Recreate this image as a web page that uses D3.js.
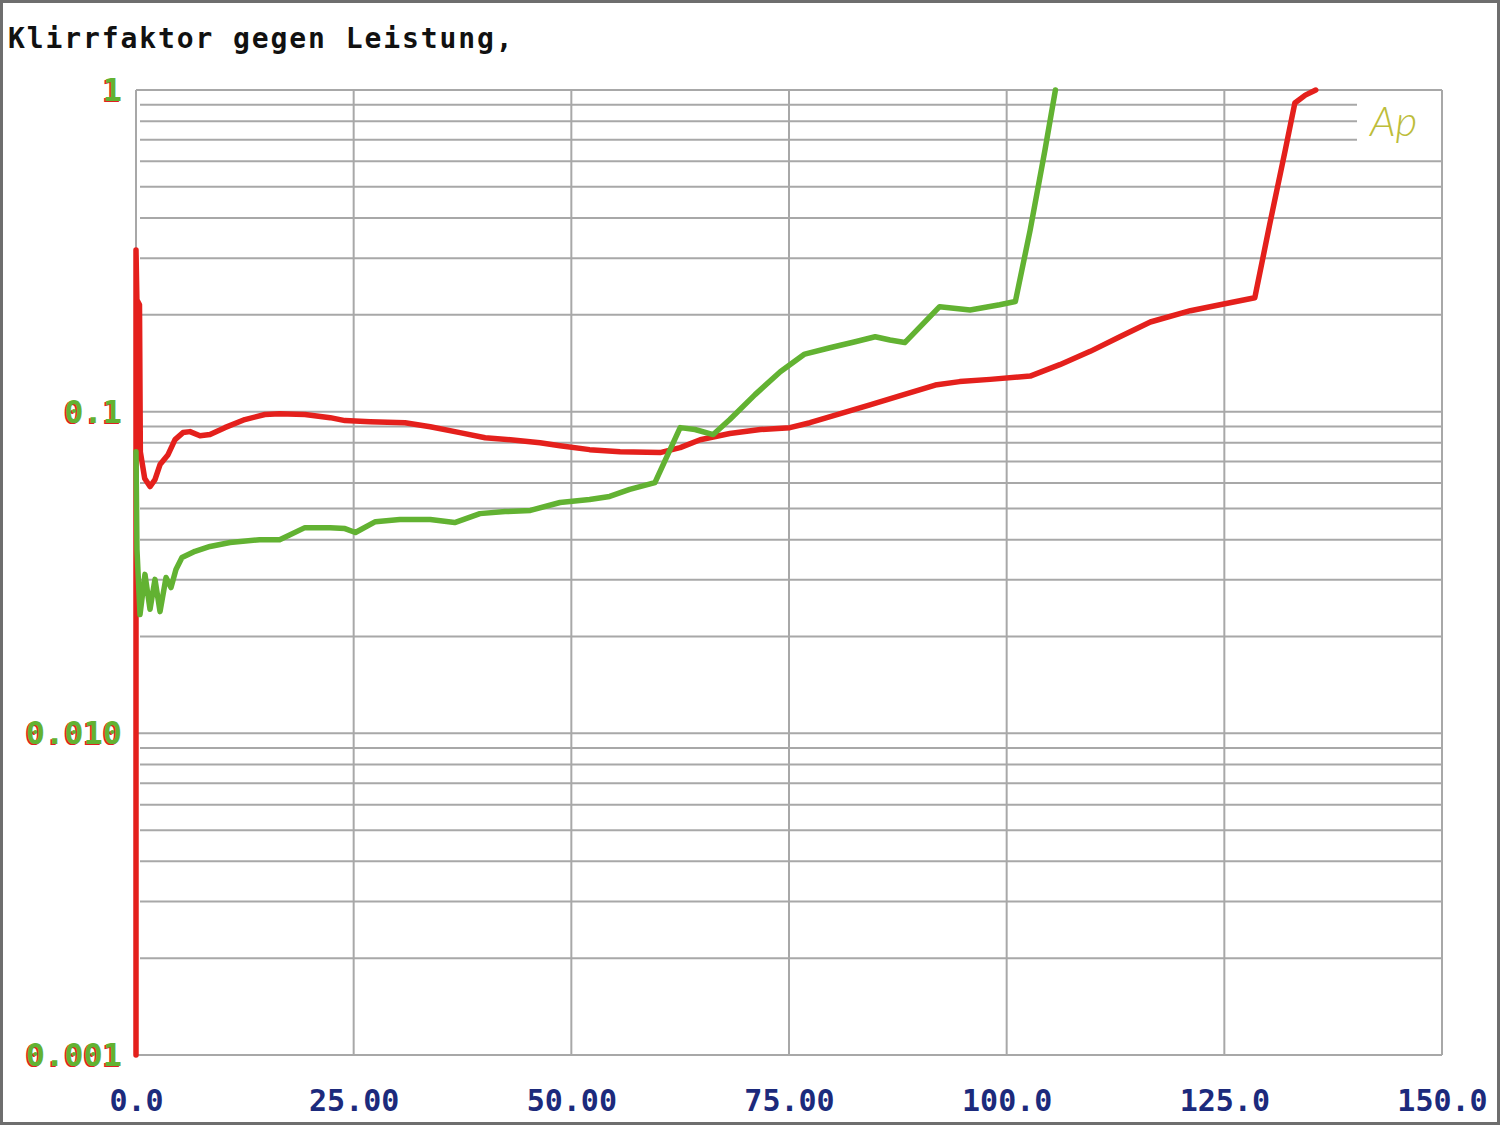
<!DOCTYPE html>
<html>
<head>
<meta charset="utf-8">
<script src="https://cdn.jsdelivr.net/npm/d3@7"></script>
<style>
  html, body { margin: 0; padding: 0; background: #fff; }
  svg { display: block; }
</style>
</head>
<body>
<svg id="chart" width="1500" height="1125"></svg>
<script>
// ---- Data ----
const titleText = "Klirrfaktor gegen Leistung,";
const xTickValues = [0, 25, 50, 75, 100, 125, 150];
const xTickLabels = ["0.0", "25.00", "50.00", "75.00", "100.0", "125.0", "150.0"];
const yTickValues = [1, 0.1, 0.01, 0.001];
const yTickLabels = ["1", "0.1", "0.010", "0.001"];
const yMinorValues = [0.9,0.8,0.7,0.6,0.5,0.4,0.3,0.2,
                      0.09,0.08,0.07,0.06,0.05,0.04,0.03,0.02,
                      0.009,0.008,0.007,0.006,0.005,0.004,0.003,0.002];
const yShortMinor = [0.9, 0.8, 0.7];

// red series: power (W) vs THD (%)
const redX = [0, 0, 0.1, 0.4, 0.5, 1.0, 1.61, 2.18, 2.76, 3.68, 4.48, 5.40, 6.20, 7.35, 8.50,
  10.2, 12.5, 14.8, 16.5, 19.4, 22.3, 24.0, 26.9, 30.9, 33.8, 37.2, 40.1, 43.0, 46.4, 48.7,
  52.1, 55.6, 60.2, 62.5, 64.8, 68.2, 71.7, 75.1, 77.4, 80.9, 84.3, 87.7, 91.8, 94.6, 98.1,
  102.7, 106.1, 109.6, 113.0, 116.5, 121.1, 124.5, 128.5, 130.2, 132.0, 133.1, 134.3, 135.5];
const redY = [0.001, 0.318, 0.223, 0.215, 0.075, 0.062, 0.0585, 0.0615, 0.0685, 0.0735, 0.0819, 0.0861, 0.0867, 0.0842, 0.0849,
  0.0892, 0.0945, 0.098, 0.0986, 0.098, 0.0958, 0.0938, 0.0931, 0.0924, 0.0898, 0.0861, 0.083, 0.0818, 0.0801, 0.0784,
  0.0762, 0.0751, 0.0746, 0.0773, 0.0818, 0.0855, 0.0880, 0.0892, 0.0924, 0.0986, 0.105, 0.112, 0.121, 0.124, 0.126,
  0.129, 0.140, 0.154, 0.171, 0.190, 0.206, 0.215, 0.226, 0.381, 0.651, 0.911, 0.964, 1.0];

// green series
const greenX = [0, 0.11, 0.46, 1.03, 1.61, 2.18, 2.76, 3.45, 4.02, 4.59, 5.28, 6.78, 8.50, 10.8, 14.2,
  16.5, 19.4, 22.3, 24.0, 25.2, 27.5, 30.3, 33.8, 36.6, 39.5, 42.4, 45.3, 48.7, 52.1, 54.4,
  56.7, 59.6, 62.5, 64.2, 66.3, 68.2, 71.1, 74.0, 76.8, 79.7, 82.6, 84.9, 86.6, 88.3, 92.3,
  95.8, 99.2, 101.0, 102.7, 104.4, 105.6];
const greenY = [0.0751, 0.0373, 0.0234, 0.0312, 0.0243, 0.0301, 0.0239, 0.0305, 0.0284, 0.0323, 0.0352, 0.0368, 0.0381, 0.0392, 0.0400,
  0.0400, 0.0436, 0.0436, 0.0433, 0.0421, 0.0455, 0.0462, 0.0462, 0.0452, 0.0482, 0.0489, 0.0493, 0.0522, 0.0533, 0.0545,
  0.0573, 0.0602, 0.0892, 0.0880, 0.0849, 0.0945, 0.113, 0.133, 0.151, 0.158, 0.165, 0.171, 0.167, 0.164, 0.212,
  0.207, 0.215, 0.220, 0.367, 0.651, 1.0];

// ---- Drawing ----
const svg = d3.select("#chart");
const W = 1500, H = 1125;
const x = d3.scaleLinear().domain([0, 150]).range([136, 1442]);
const y = d3.scaleLog().domain([0.001, 1]).range([1055, 90]);

svg.append("rect").attr("x", 1.5).attr("y", 1.5).attr("width", W - 3).attr("height", H - 3)
  .attr("fill", "#fff").attr("stroke", "#6e6e6e").attr("stroke-width", 3);

const gridColor = "#a8a8a8";
const grid = svg.append("g");
grid.selectAll("line.minor").data(yMinorValues).join("line")
  .attr("x1", x(0) + 4)
  .attr("x2", d => yShortMinor.includes(d) ? 1357 : x(150))
  .attr("y1", d => y(d)).attr("y2", d => y(d))
  .attr("stroke", gridColor).attr("stroke-width", 2);
grid.selectAll("line.major").data(yTickValues).join("line")
  .attr("x1", x(0)).attr("x2", x(150))
  .attr("y1", d => y(d)).attr("y2", d => y(d))
  .attr("stroke", gridColor).attr("stroke-width", 2);
grid.selectAll("line.v").data(xTickValues).join("line")
  .attr("x1", d => x(d)).attr("x2", d => x(d))
  .attr("y1", y(1)).attr("y2", y(0.001))
  .attr("stroke", gridColor).attr("stroke-width", 2);

// title
svg.append("text").attr("x", 8).attr("y", 48)
  .attr("font-family", "'DejaVu Sans Mono', monospace").attr("font-weight", "bold")
  .attr("font-size", 28).attr("letter-spacing", 1.9).attr("fill", "#111")
  .text(titleText);

// Ap logo
svg.append("text").attr("x", 1370).attr("y", 136)
  .attr("font-family", "Lato, sans-serif").attr("font-weight", 300).attr("font-style", "italic")
  .attr("font-size", 42).attr("fill", "#bdbd3a")
  .text("Ap");

// y labels (red shadow + green)
const yLab = svg.append("g");
[["#e02020", -1.5, 1], ["#62b232", 0, 0]].forEach(([col, dx, dy]) => {
  yLab.append("g").selectAll("text").data(yTickValues).join("text")
    .attr("x", 122 + dx).attr("y", d => y(d) + 11 + dy)
    .attr("text-anchor", "end")
    .attr("font-family", "'DejaVu Sans Mono', monospace").attr("font-weight", "bold")
    .attr("font-size", 32).attr("fill", col)
    .text((d, i) => yTickLabels[i]);
});

// x axis labels via d3 axis
const xAxis = d3.axisBottom(x).tickValues(xTickValues)
  .tickFormat((d, i) => xTickLabels[i]).tickSize(0).tickPadding(0);
const gx = svg.append("g").attr("transform", "translate(0,1090)").call(xAxis);
gx.select(".domain").remove();
gx.selectAll("text")
  .attr("font-family", "'DejaVu Sans Mono', monospace").attr("font-weight", "bold")
  .attr("font-size", 30).attr("fill", "#1c2a7c").attr("dy", "0.71em");

// series
const line = d3.line().x(d => x(d[0])).y(d => y(d[1]));
const redData = redX.map((v, i) => [v, redY[i]]);
const greenData = greenX.map((v, i) => [v, greenY[i]]);

svg.append("path").datum(redData).attr("d", line)
  .attr("fill", "none").attr("stroke", "#e4201c").attr("stroke-width", 5.5)
  .attr("stroke-linejoin", "round").attr("stroke-linecap", "round");
svg.append("path").datum(greenData).attr("d", line)
  .attr("fill", "none").attr("stroke", "#62b232").attr("stroke-width", 5.5)
  .attr("stroke-linejoin", "round").attr("stroke-linecap", "round");
</script>
</body>
</html>
